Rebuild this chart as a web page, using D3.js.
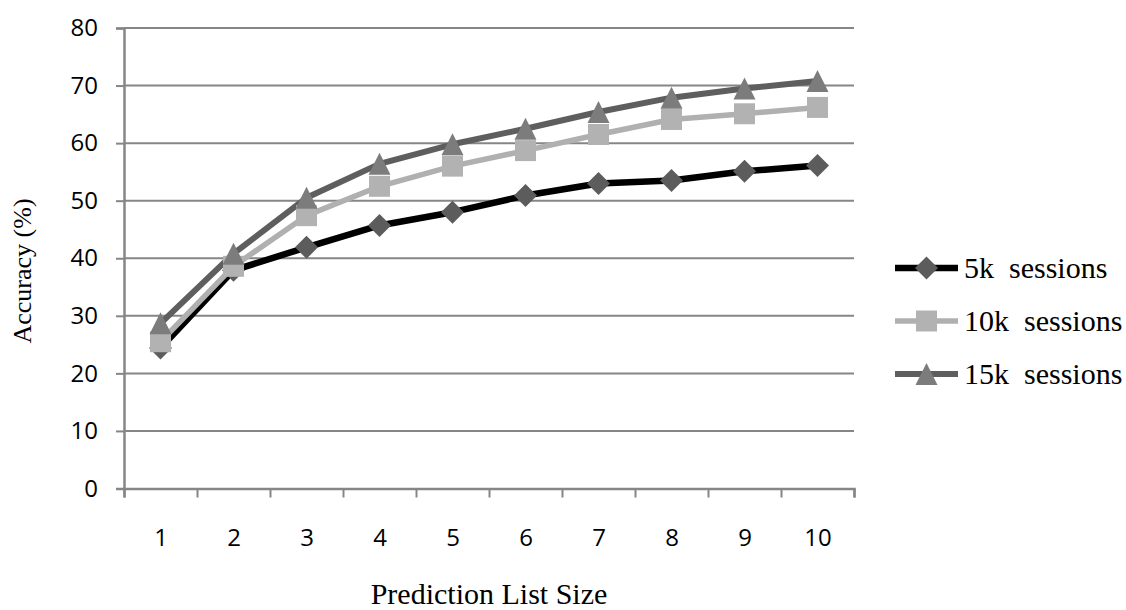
<!DOCTYPE html>
<html>
<head>
<meta charset="utf-8">
<script src="https://cdn.jsdelivr.net/npm/d3@7"></script>
<style>
  html, body { margin: 0; padding: 0; background: #fff; }
  svg { display: block; }
  text { white-space: pre; }
</style>
</head>
<body>
<svg id="chart" width="1126" height="610"></svg>
<script>
// ---- Data ----
const categories = [1, 2, 3, 4, 5, 6, 7, 8, 9, 10];
const yTicks = [0, 10, 20, 30, 40, 50, 60, 70, 80];
const seriesNames = ["5k  sessions", "10k  sessions", "15k  sessions"];
const s5k  = [24.4, 37.9, 41.9, 45.7, 48.0, 50.9, 53.0, 53.5, 55.1, 56.1];
const s10k = [25.5, 38.6, 47.4, 52.5, 56.0, 58.7, 61.5, 64.1, 65.1, 66.2];
const s15k = [28.7, 40.8, 50.5, 56.4, 59.8, 62.5, 65.4, 67.9, 69.5, 70.8];
const xTitle = "Prediction List Size";
const yTitle = "Accuracy (%)";

(function () {
// ---- Styles ----
const series = [
  { name: seriesNames[0], values: s5k,  line: "#000000", fill: "#5c5c5c", marker: "diamond",  width: 6.5 },
  { name: seriesNames[1], values: s10k, line: "#b0b0b0", fill: "#b2b2b2", marker: "square",   width: 5.5 },
  { name: seriesNames[2], values: s15k, line: "#5e5e5e", fill: "#7c7c7c", marker: "triangle", width: 6 }
];

const svg = d3.select("#chart");
const pLeft = 124, pRight = 854, pTop = 28, pBottom = 488.5;
const gridColor = "#868686";
const tickFont = "'Open Sans', 'Liberation Sans', sans-serif";
const serifFont = "'Liberation Serif', 'Times New Roman', serif";

const x = d3.scaleLinear().domain([0.5, 10.5]).range([pLeft, pRight]);
const y = d3.scaleLinear().domain([0, 80]).range([pBottom, pTop]);

// Gridlines
svg.append("g")
  .selectAll("line")
  .data(yTicks.filter(d => d > 0))
  .join("line")
  .attr("x1", pLeft).attr("x2", pRight)
  .attr("y1", d => y(d)).attr("y2", d => y(d))
  .attr("stroke", gridColor).attr("stroke-width", 2);

// Y axis
const yAxis = svg.append("g")
  .attr("transform", `translate(${pLeft},0)`)
  .call(d3.axisLeft(y).tickValues(yTicks).tickSize(8).tickPadding(18).tickFormat(d3.format("d")));
yAxis.select(".domain").attr("stroke", gridColor).attr("stroke-width", 2.5);
yAxis.selectAll(".tick line").attr("stroke", gridColor).attr("stroke-width", 2);
yAxis.selectAll(".tick text")
  .attr("font-family", tickFont).attr("font-size", 24).attr("fill", "#000");

// X axis (ticks between categories)
const xAxis = svg.append("g")
  .attr("transform", `translate(0,${pBottom})`)
  .call(d3.axisBottom(x).tickValues(d3.range(0.5, 11, 1)).tickSize(9).tickFormat(""));
xAxis.select(".domain").attr("stroke", gridColor).attr("stroke-width", 2.5);
xAxis.selectAll(".tick line").attr("stroke", gridColor).attr("stroke-width", 2);

const xLabels = svg.append("g")
  .attr("transform", `translate(0,${pBottom})`)
  .call(d3.axisBottom(x).tickValues(categories).tickSize(0).tickPadding(40).tickFormat(d3.format("d")));
xLabels.select(".domain").remove();
xLabels.selectAll(".tick text")
  .attr("font-family", tickFont).attr("font-size", 24).attr("fill", "#000");

// Marker shapes
function markerPath(type) {
  if (type === "diamond") { const r = 11.5; return `M0,${-r}L${r},0L0,${r}L${-r},0Z`; }
  if (type === "square")  { const r = 10.5; return `M${-r},${-r}H${r}V${r}H${-r}Z`; }
  const w = 11, h = 11; return `M0,${-h}L${w},${h}L${-w},${h}Z`;
}

const line = d3.line().x((d, i) => x(categories[i])).y(d => y(d));

// Lines
series.forEach(s => {
  svg.append("path")
    .attr("d", line(s.values))
    .attr("fill", "none")
    .attr("stroke", s.line)
    .attr("stroke-width", s.width)
    .attr("stroke-linejoin", "round");
});
// Markers
series.forEach(s => {
  svg.append("g").selectAll("path")
    .data(s.values)
    .join("path")
    .attr("transform", (d, i) => `translate(${x(categories[i])},${y(d)})`)
    .attr("d", markerPath(s.marker))
    .attr("fill", s.fill);
});

// Axis titles
svg.append("text")
  .attr("x", (pLeft + pRight) / 2).attr("y", 604)
  .attr("text-anchor", "middle")
  .attr("font-family", serifFont)
  .attr("font-size", 30).attr("fill", "#000")
  .text(xTitle);

svg.append("text")
  .attr("transform", `translate(31,271) rotate(-90)`)
  .attr("text-anchor", "middle")
  .attr("font-family", serifFont)
  .attr("font-size", 26).attr("fill", "#000")
  .text(yTitle);

// Legend
const legendY = [268, 321, 374];
const legend = svg.append("g");
series.forEach((s, i) => {
  const g = legend.append("g").attr("transform", `translate(0,${legendY[i]})`);
  g.append("line").attr("x1", 895).attr("x2", 958).attr("y1", 0).attr("y2", 0)
    .attr("stroke", s.line).attr("stroke-width", s.width);
  g.append("path").attr("transform", "translate(926.5,0)").attr("d", markerPath(s.marker)).attr("fill", s.fill);
  g.append("text").attr("x", 964).attr("y", 10)
    .attr("font-family", serifFont)
    .attr("font-size", 30).attr("fill", "#000")
    .text(s.name);
});
})();
</script>
</body>
</html>
